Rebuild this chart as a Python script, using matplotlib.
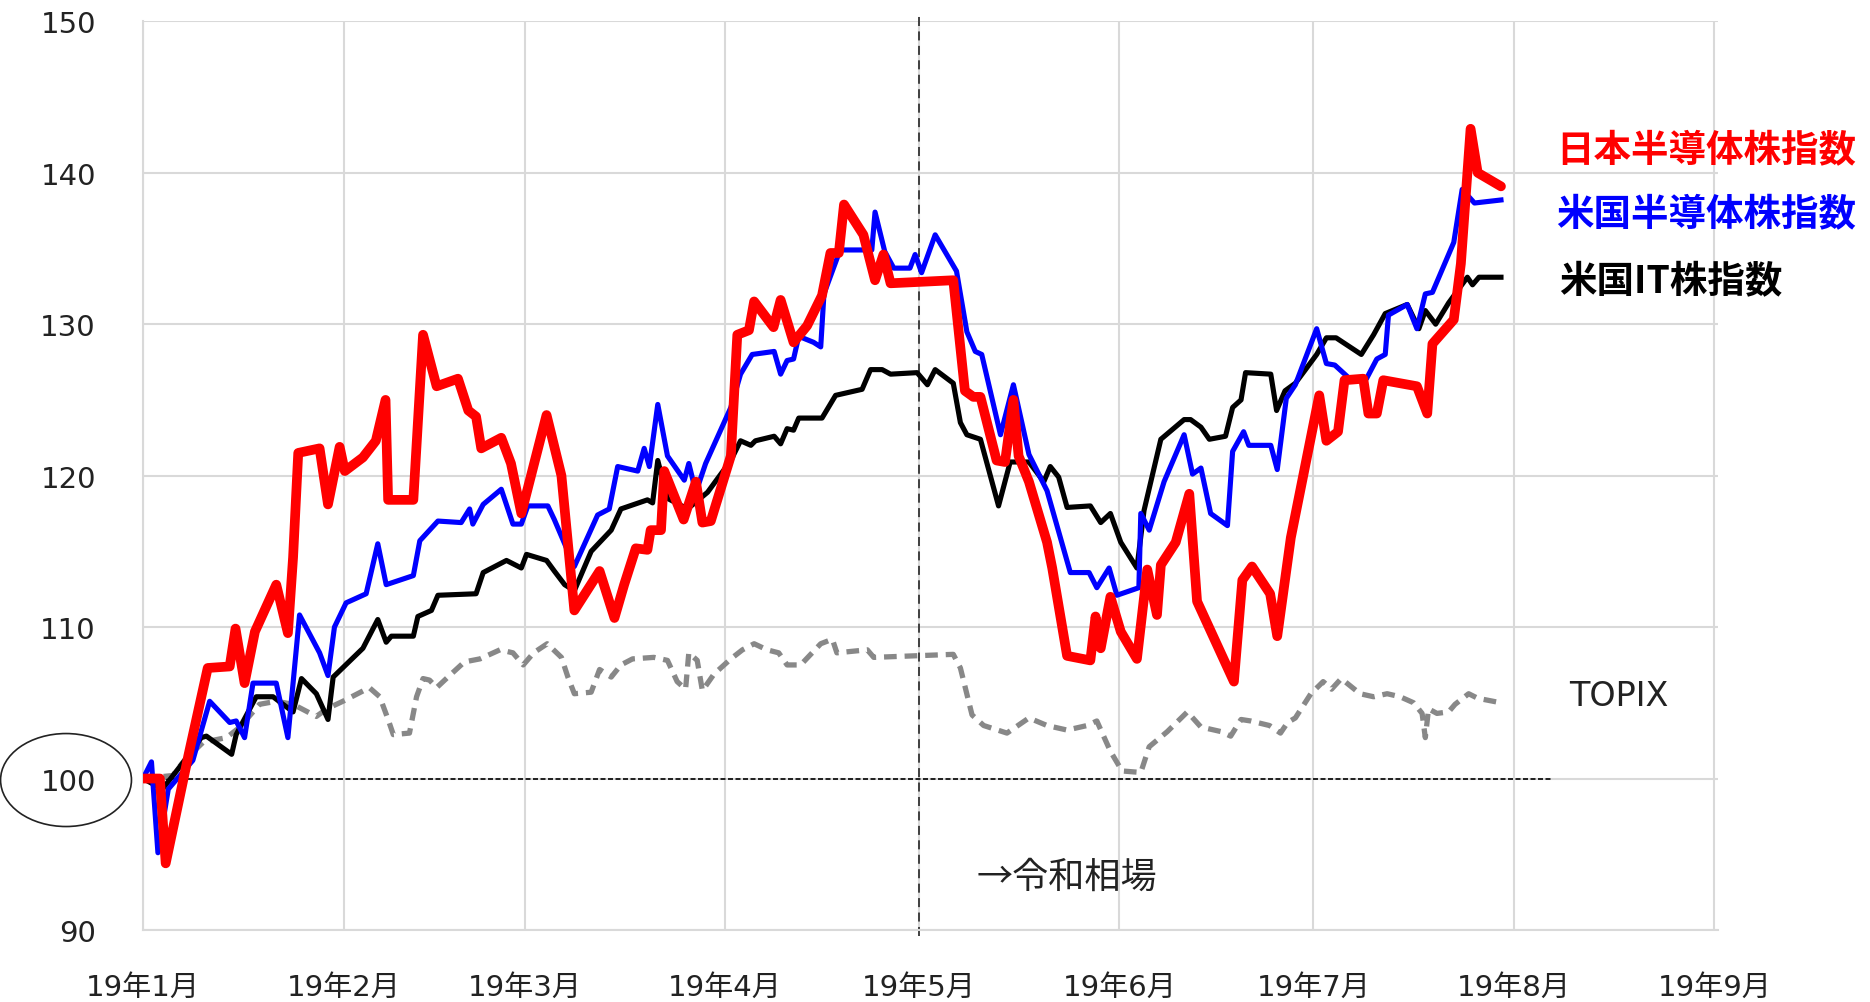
import matplotlib
matplotlib.use("Agg")
import matplotlib.pyplot as plt
from matplotlib.patches import Ellipse

plt.rcParams['font.family'] = ['DejaVu Sans', 'Noto Sans CJK JP']
jp_font = ['Noto Sans CJK JP', 'DejaVu Sans']

# x = days since 2019-01-01
month_days = [0, 31, 59, 90, 120, 151, 181, 212, 243]
month_labels = ["19年1月", "19年2月", "19年3月", "19年4月", "19年5月",
                "19年6月", "19年7月", "19年8月", "19年9月"]

# 日本半導体株指数
jp_days = [0, 2.6, 3.5, 7, 10, 13.4, 14.3, 15.7, 17.3, 20.6,
           22.4, 23.2, 24, 27.3, 28.6, 30.4, 31.2, 34, 36, 37.5,
           37.9, 41.8, 43.3, 45.4, 48.7, 50.3, 51.5, 52.3, 55.4, 56.9,
           58.5, 62.4, 64.7, 66.7, 70.6, 72.9, 74.4, 76.2, 78, 78.5,
           80.1, 80.6, 83.6, 85.5, 86.5, 87.8, 90.9, 91.9, 93.7, 94.5,
           97.5, 98.6, 100.6, 102.7, 105, 106.3, 107.6, 108.4, 111.4, 113.2,
           114.5, 115.6, 125.3, 127.1, 128.4, 129.5, 132, 133.3, 134.6, 135.4,
           137, 139.8, 140.6, 142.9, 146.5, 147.3, 148.1, 149.6, 151.2, 153.7,
           155.3, 156.8, 157.4, 159.7, 161.8, 163, 168.7, 170, 171.5, 174.3,
           175.4, 177.5, 181.9, 183, 184.8, 185.8, 188.7, 189.5, 190.8, 191.8,
           197, 198.6, 199.4, 202.7, 203.8, 205.3, 206.4, 210]
jp_vals = [100, 100, 94.4, 101.5, 107.3, 107.4, 109.9, 106.3, 109.7, 112.8,
           109.6, 114.6, 121.5, 121.8, 118.1, 121.9, 120.3, 121.2, 122.3, 125,
           118.4, 118.4, 129.3, 125.9, 126.4, 124.3, 123.9, 121.8, 122.5, 120.8,
           117.5, 124.0, 120.0, 111.1, 113.7, 110.6, 112.8, 115.2, 115.1, 116.4,
           116.4, 120.3, 117.1, 119.6, 116.9, 117.0, 121.3, 129.3, 129.6, 131.5,
           129.8, 131.6, 128.8, 129.9, 131.9, 134.7, 134.7, 137.9, 135.9, 132.9,
           134.6, 132.7, 132.9, 125.6, 125.2, 125.2, 121.0, 120.9, 125.0, 121.3,
           119.6, 115.6, 113.9, 108.1, 107.8, 110.7, 108.6, 112.0, 109.7, 107.9,
           113.8, 110.8, 114.1, 115.6, 118.8, 111.7, 106.4, 113.1, 114.0, 112.2,
           109.4, 115.9, 125.3, 122.3, 122.9, 126.3, 126.4, 124.1, 124.1, 126.3,
           125.9, 124.1, 128.7, 130.3, 134.0, 142.9, 140.0, 139.1]

# 米国半導体株指数
us_semi_days = [0, 1.3, 2.3, 3.9, 7.7, 10.3, 13.4, 14.4, 15.7, 17,
                20.6, 22.4, 24.2, 27.3, 28.6, 29.6, 31.4, 34.5, 36.3, 37.6,
                41.8, 42.8, 45.6, 49.2, 50.5, 51, 52.6, 55.4, 57.2, 58.5,
                59.5, 62.6, 63.6, 66.7, 70.3, 72.1, 73.4, 76.5, 77.5, 78.3,
                79.6, 81.1, 83.7, 84.4, 85.5, 87, 90.9, 92.4, 94.2, 97.6,
                98.6, 99.6, 100.6, 101.4, 103.7, 104.8, 105.3, 107.8, 112.7, 113.2,
                114.7, 116.1, 118.6, 119.4, 120.4, 122.5, 125.8, 127.4, 128.7, 129.7,
                132.6, 134.6, 137, 139.8, 143.4, 146.3, 147.5, 149.4, 150.6, 154,
                154.3, 155.6, 157.9, 161, 162.3, 163.6, 165.1, 167.7, 168.5, 170.2,
                171, 174.4, 175.4, 176.8, 178.2, 181.5, 183, 184.3, 186.6, 189.2,
                190.8, 192.1, 192.6, 195.5, 197, 198.3, 199.4, 202.7, 204, 205.9,
                210]
us_semi_vals = [100, 101.1, 95.1, 99.3, 101.2, 105.1, 103.7, 103.8, 102.7, 106.3,
                106.3, 102.7, 110.8, 108.3, 106.8, 110.0, 111.6, 112.2, 115.5, 112.8,
                113.4, 115.7, 117.0, 116.9, 117.8, 116.8, 118.1, 119.1, 116.8, 116.8,
                118.0, 118.0, 117.1, 114.0, 117.4, 117.8, 120.6, 120.3, 121.8, 120.6,
                124.7, 121.3, 119.7, 120.8, 118.9, 120.8, 124.5, 126.7, 128.0, 128.2,
                126.7, 127.6, 127.7, 129.2, 128.8, 128.5, 132.0, 134.9, 134.9, 137.4,
                134.8, 133.7, 133.7, 134.6, 133.4, 135.9, 133.5, 129.5, 128.2, 128.0,
                122.7, 126.0, 121.4, 119.0, 113.6, 113.6, 112.6, 113.9, 112.1, 112.6,
                117.5, 116.4, 119.6, 122.7, 120.1, 120.5, 117.5, 116.7, 121.6, 122.9,
                122.0, 122.0, 120.4, 125.1, 126.0, 129.7, 127.4, 127.3, 126.4, 126.4,
                127.7, 128.0, 130.6, 131.3, 129.7, 132.0, 132.1, 135.4, 138.9, 138.0,
                138.2]

# 米国IT株指数
us_it_days = [0, 3, 7, 9, 9.8, 13.7, 14.4, 17.5, 20.1, 23.2,
              24.5, 26.8, 28.6, 29.4, 34, 36.3, 37.6, 38.4, 41.8, 42.5,
              44.6, 45.6, 51.5, 52.6, 56.2, 58.5, 59.3, 62.4, 63.6, 65.2,
              66.7, 69.3, 72.4, 73.9, 78, 78.8, 79.6, 81.1, 84.2, 87.3,
              90.9, 92.4, 94, 94.7, 97.6, 98.6, 99.6, 100.6, 101.4, 105,
              107.1, 111.2, 112.5, 114.3, 115.6, 119.7, 121.3, 122.5, 125.3, 126.4,
              127.4, 129.5, 132.3, 134.1, 137, 139.3, 140.3, 141.6, 142.9, 146.5,
              148.1, 149.6, 151.2, 153.7, 154.8, 157.4, 161, 162, 163.6, 164.9,
              167.4, 168.5, 169.8, 170.5, 174.4, 175.3, 176.6, 178.2, 181.5, 183,
              184.5, 188.4, 190.3, 192.1, 195.5, 197.3, 198.3, 199.9, 201.9, 204.8,
              205.6, 206.6, 210]
us_it_vals = [100, 99.3, 101.5, 102.7, 102.8, 101.6, 102.9, 105.4, 105.4, 104.4,
              106.6, 105.6, 103.9, 106.7, 108.6, 110.5, 109.0, 109.4, 109.4, 110.7,
              111.1, 112.1, 112.2, 113.6, 114.4, 113.9, 114.8, 114.4, 113.7, 112.8,
              112.4, 115.0, 116.4, 117.8, 118.4, 118.2, 121.0, 118.5, 117.8, 118.9,
              121.0, 122.3, 122.0, 122.3, 122.6, 122.1, 123.1, 123.0, 123.8, 123.8,
              125.3, 125.7, 127.0, 127.0, 126.7, 126.8, 126.0, 127.0, 126.1, 123.5,
              122.7, 122.4, 118.0, 120.9, 120.9, 119.6, 120.6, 119.9, 117.9, 118.0,
              116.9, 117.5, 115.6, 113.9, 117.7, 122.4, 123.7, 123.7, 123.2, 122.4,
              122.6, 124.5, 125.0, 126.8, 126.7, 124.3, 125.6, 126.1, 128.0, 129.1,
              129.1, 128.0, 129.3, 130.7, 131.3, 129.7, 130.9, 130.0, 131.4, 133.1,
              132.6, 133.1, 133.1]

# TOPIX
topix_days = [0, 4.6, 6.4, 9.3, 12.9, 15, 18, 20.6, 23.2, 26.8,
              28.4, 30.9, 35, 36.6, 37.9, 38.7, 41.2, 42.3, 43.3, 44.3,
              45.4, 47.4, 49.7, 52.1, 55.2, 57.2, 58.8, 60.4, 62.5, 64.7,
              65.7, 66.7, 69.3, 70.6, 72.4, 73.9, 75.7, 79, 81.1, 82.6,
              83.9, 84.4, 85.7, 86.5, 88.3, 90.9, 92.7, 94.5, 96.5, 98.3,
              99.6, 101.7, 104.8, 106.6, 107.3, 112, 113, 125.3, 126.4, 128.2,
              130, 133.6, 137, 139.8, 142.9, 146, 147.5, 149.6, 151.4, 154.3,
              155.6, 158.4, 161.5, 163.6, 166.7, 168.2, 169.8, 171.3, 174.2, 175.9,
              177, 178.2, 180.6, 182.5, 183.8, 185.3, 188.2, 190.3, 192.4, 194.4,
              196.5, 197.8, 198.3, 198.8, 200.1, 201.9, 202.9, 205, 206.4, 210]
topix_vals = [100, 100.2, 101.2, 102.4, 102.7, 103.4, 104.9, 105.1, 104.9, 104.1,
              104.6, 105.1, 106.0, 105.4, 103.9, 102.9, 103.0, 105.4, 106.6, 106.5,
              106.0, 106.8, 107.7, 107.9, 108.5, 108.3, 107.5, 108.3, 108.9, 108.0,
              106.7, 105.6, 105.7, 107.2, 106.7, 107.5, 107.9, 108.0, 107.8, 106.4,
              105.9, 108.3, 107.8, 105.8, 106.9, 107.9, 108.5, 108.9, 108.5, 108.3,
              107.5, 107.5, 108.9, 109.2, 108.3, 108.5, 108.0, 108.2, 107.3, 104.2,
              103.5, 103.0, 104.0, 103.5, 103.2, 103.5, 103.8, 101.8, 100.5, 100.4,
              102.1, 103.1, 104.4, 103.4, 103.1, 102.8, 103.9, 103.8, 103.5, 103.0,
              103.7, 104.0, 105.6, 106.4, 105.9, 106.6, 105.6, 105.4, 105.6, 105.4,
              105.0, 104.3, 102.7, 104.6, 104.3, 104.4, 104.9, 105.6, 105.3, 105.0]

fig = plt.figure(figsize=(18.7, 10.03), dpi=100)
ax = fig.add_axes([0.0765, 0.0718, 0.842, 0.906])

#lines
ax.plot(topix_days, topix_vals, color="#888888", lw=3.8,
        linestyle=(0, (2.4, 1.5)), zorder=3)
ax.plot(us_it_days, us_it_vals, color="black", lw=3.7,
        solid_joinstyle="round", zorder=4)
ax.plot(us_semi_days, us_semi_vals, color="#0000ff", lw=3.7,
        solid_joinstyle="round", zorder=5)
ax.plot(jp_days, jp_vals, color="#ff0000", lw=7,
        solid_joinstyle="round", solid_capstyle="round", zorder=6)

#reference lines
ax.plot([0, 218], [100, 100], color="black", lw=1.2,
        linestyle=(0, (3, 1.5)), zorder=2)
ax.plot([120, 120], [89.6, 150.6], color="#333333", lw=1.3,
        linestyle=(0, (5, 3)), clip_on=False, zorder=2)

ax.set_xlim(0, 243.5)
ax.set_ylim(90, 150)
ax.set_xticks(month_days)
ax.set_xticklabels(month_labels)
ax.set_yticks(range(90, 151, 10))
ax.tick_params(axis="x", length=0, pad=31, labelsize=21, labelcolor="#222222")
ax.tick_params(axis="y", length=0, pad=34, labelsize=21, labelcolor="#222222")
ax.grid(True, color="#d9d9d9", lw=1.5, zorder=0)
ax.set_axisbelow(True)
for side in ["top", "right"]:
    ax.spines[side].set_visible(False)
for side in ["left", "bottom"]:
    ax.spines[side].set_color("#d9d9d9")
    ax.spines[side].set_linewidth(1.5)

#labels on the right
ax.text(218.5, 141.5, "日本半導体株指数", color="#ff0000", fontsize=27,
        fontweight="bold", va="center", ha="left", clip_on=False, family=jp_font)
ax.text(218.5, 137.3, "米国半導体株指数", color="#0000ff", fontsize=27,
        fontweight="bold", va="center", ha="left", clip_on=False, family=jp_font)
ax.text(219, 132.9, "米国IT株指数", color="black", fontsize=27,
        fontweight="bold", va="center", ha="left", clip_on=False, family=jp_font)
ax.text(220.5, 105.5, "TOPIX", color="#222222", fontsize=24,
        va="center", ha="left")
ax.text(128.9, 93.5, "→令和相場", color="#222222", fontsize=26,
        va="center", ha="left", family=jp_font)

#circle around 100
fig.add_artist(Ellipse((0.0353, 0.2213), 0.070, 0.0927, transform=fig.transFigure,
                       fill=False, edgecolor="#222222", lw=1.2))

fig.savefig("out.png", dpi=100)
